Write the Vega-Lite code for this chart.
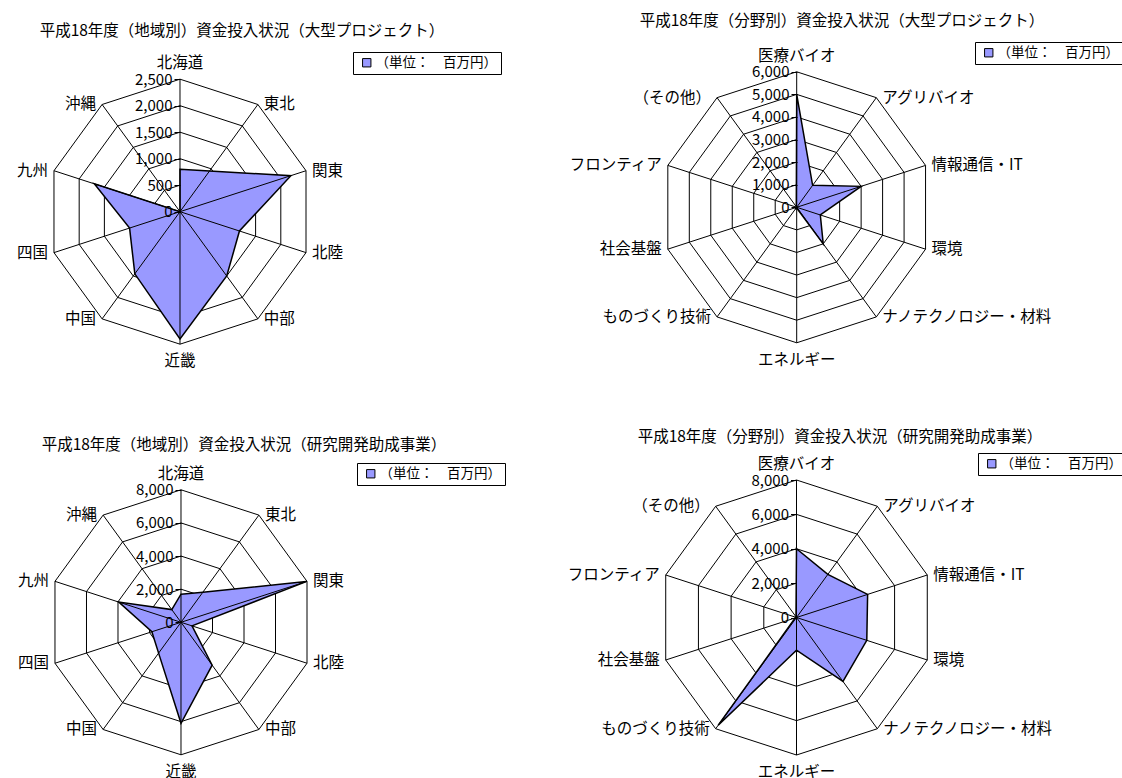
{
  "$schema": "https://vega.github.io/schema/vega-lite/v6.json",
  "background": "white",
  "padding": 0,
  "autosize": {"type": "pad"},
  "config": {"view": {"stroke": null, "fill": "white"}, "concat": {"spacing": 0}},
  "datasets": {
    "A": [
      {"cat": "北海道", "idx": 0, "v": 800},
      {"cat": "東北", "idx": 1, "v": 950},
      {"cat": "関東", "idx": 2, "v": 2200},
      {"cat": "北陸", "idx": 3, "v": 1180},
      {"cat": "中部", "idx": 4, "v": 1500},
      {"cat": "近畿", "idx": 5, "v": 2400},
      {"cat": "中国", "idx": 6, "v": 1450},
      {"cat": "四国", "idx": 7, "v": 1000},
      {"cat": "九州", "idx": 8, "v": 1700},
      {"cat": "沖縄", "idx": 9, "v": 0}
    ],
    "B": [
      {"cat": "医療バイオ", "idx": 0, "v": 5000},
      {"cat": "アグリバイオ", "idx": 1, "v": 1200},
      {"cat": "情報通信・IT", "idx": 2, "v": 3000},
      {"cat": "環境", "idx": 3, "v": 1100},
      {"cat": "ナノテクノロジー・材料", "idx": 4, "v": 2000},
      {"cat": "エネルギー", "idx": 5, "v": 30},
      {"cat": "ものづくり技術", "idx": 6, "v": 100},
      {"cat": "社会基盤", "idx": 7, "v": 30},
      {"cat": "フロンティア", "idx": 8, "v": 0},
      {"cat": "（その他）", "idx": 9, "v": 30}
    ],
    "C": [
      {"cat": "北海道", "idx": 0, "v": 1700},
      {"cat": "東北", "idx": 1, "v": 2250},
      {"cat": "関東", "idx": 2, "v": 7950},
      {"cat": "北陸", "idx": 3, "v": 700},
      {"cat": "中部", "idx": 4, "v": 3200},
      {"cat": "近畿", "idx": 5, "v": 6100},
      {"cat": "中国", "idx": 6, "v": 2300},
      {"cat": "四国", "idx": 7, "v": 1850},
      {"cat": "九州", "idx": 8, "v": 3950},
      {"cat": "沖縄", "idx": 9, "v": 950}
    ],
    "D": [
      {"cat": "医療バイオ", "idx": 0, "v": 4000},
      {"cat": "アグリバイオ", "idx": 1, "v": 3100},
      {"cat": "情報通信・IT", "idx": 2, "v": 4350},
      {"cat": "環境", "idx": 3, "v": 4300},
      {"cat": "ナノテクノロジー・材料", "idx": 4, "v": 4600},
      {"cat": "エネルギー", "idx": 5, "v": 1900},
      {"cat": "ものづくり技術", "idx": 6, "v": 7750},
      {"cat": "社会基盤", "idx": 7, "v": 80},
      {"cat": "フロンティア", "idx": 8, "v": 0},
      {"cat": "（その他）", "idx": 9, "v": 50}
    ]
  },
  "columns": 2,
  "align": "each",
  "spacing": 0,
  "bounds": "flush",
  "resolve": {"scale": {"fill": "independent"}, "legend": {"fill": "independent"}},
  "concat": [
    {
      "width": 560, "height": 410,
      "data": {"name": "A"},
      "title": {"text": "平成18年度（地域別）資金投入状況（大型プロジェクト）", "anchor": "middle", "frame": "group", "dx": -38, "dy": 5, "offset": -41, "baseline": "middle", "font": "Noto Sans CJK JP", "fontSize": 15.5, "fontWeight": "normal", "color": "black"},
      "transform": [{"calculate": "datum.idx*PI/5", "as": "th"}],
      "encoding": {
        "x": {"field": "X", "type": "quantitative", "scale": {"domain": [-3396, 7170], "nice": false, "zero": false}, "axis": null},
        "y": {"field": "Y", "type": "quantitative", "scale": {"domain": [-3742, 3994], "nice": false, "zero": false},
              "axis": {"orient": "left", "offset": -180, "values": [0, 500, 1000, 1500, 2000, 2500], "format": ",.0f", "domain": false, "grid": false, "ticks": true, "tickSize": 6, "tickColor": "black", "labelPadding": 2, "labelFont": "Noto Sans CJK JP", "labelFontSize": 15, "labelColor": "black", "labelFlush": false, "labelOverlap": false, "labelBound": false, "title": null, "zindex": 1}}
      },
      "layer": [
        {"transform": [{"calculate": "[500,1000,1500,2000,2500]", "as": "lv"}, {"flatten": ["lv"]}, {"calculate": "datum.lv*sin(datum.th)", "as": "X"}, {"calculate": "datum.lv*cos(datum.th)", "as": "Y"}],
         "mark": {"type": "line", "interpolate": "linear-closed", "stroke": "black", "strokeWidth": 1},
         "encoding": {"detail": {"field": "lv", "type": "quantitative"}, "order": {"field": "idx", "type": "quantitative"}}},
        {"transform": [{"calculate": "datum.v*sin(datum.th)", "as": "X"}, {"calculate": "datum.v*cos(datum.th)", "as": "Y"}],
         "mark": {"type": "line", "interpolate": "linear-closed", "strokeOpacity": 0, "fillOpacity": 1},
         "encoding": {"order": {"field": "idx", "type": "quantitative"},
                      "fill": {"datum": "（単位：　百万円）", "type": "nominal", "scale": {"range": ["#9999ff"]},
                               "legend": {"orient": "none", "legendX": 353, "legendY": 52, "title": null, "symbolType": "square", "symbolSize": 70, "symbolStrokeColor": "black", "symbolStrokeWidth": 1, "symbolOpacity": 1, "symbolOffset": 3, "strokeColor": "black", "fillColor": "white", "padding": 4, "labelFont": "Noto Sans CJK JP", "labelFontSize": 13.5, "labelColor": "black", "labelOffset": 2, "labelLimit": 400}}}},
        {"transform": [{"calculate": "2500*sin(datum.th)", "as": "X"}, {"calculate": "2500*cos(datum.th)", "as": "Y"}],
         "mark": {"type": "rule", "stroke": "black", "strokeWidth": 1},
         "encoding": {"x2": {"datum": 0}, "y2": {"datum": 0}}},
        {"transform": [{"calculate": "datum.v*sin(datum.th)", "as": "X"}, {"calculate": "datum.v*cos(datum.th)", "as": "Y"}],
         "mark": {"type": "line", "interpolate": "linear-closed", "stroke": "black", "strokeWidth": 1.5},
         "encoding": {"order": {"field": "idx", "type": "quantitative"}}},
        {"transform": [{"filter": "datum.idx>=1 && datum.idx<=4"}, {"calculate": "2500*sin(datum.th)", "as": "X"}, {"calculate": "2500*cos(datum.th)", "as": "Y"}],
         "mark": {"type": "text", "align": "left", "baseline": "middle", "dx": 6, "font": "Noto Sans CJK JP", "fontSize": 15.5, "fill": "black"},
         "encoding": {"text": {"field": "cat"}}},
        {"transform": [{"filter": "datum.idx>=6"}, {"calculate": "2500*sin(datum.th)", "as": "X"}, {"calculate": "2500*cos(datum.th)", "as": "Y"}],
         "mark": {"type": "text", "align": "right", "baseline": "middle", "dx": -6, "font": "Noto Sans CJK JP", "fontSize": 15.5, "fill": "black"},
         "encoding": {"text": {"field": "cat"}}},
        {"transform": [{"filter": "datum.idx==0"}, {"calculate": "2500*sin(datum.th)", "as": "X"}, {"calculate": "2500*cos(datum.th)", "as": "Y"}],
         "mark": {"type": "text", "align": "center", "baseline": "middle", "dy": -16, "font": "Noto Sans CJK JP", "fontSize": 15.5, "fill": "black"},
         "encoding": {"text": {"field": "cat"}}},
        {"transform": [{"filter": "datum.idx==5"}, {"calculate": "2500*sin(datum.th)", "as": "X"}, {"calculate": "2500*cos(datum.th)", "as": "Y"}],
         "mark": {"type": "text", "align": "center", "baseline": "middle", "dy": 17, "font": "Noto Sans CJK JP", "fontSize": 15.5, "fill": "black"},
         "encoding": {"text": {"field": "cat"}}}
      ]
    },
    {
      "width": 562, "height": 410,
      "data": {"name": "B"},
      "title": {"text": "平成18年度（分野別）資金投入状況（大型プロジェクト）", "anchor": "middle", "frame": "group", "dx": 1, "dy": 5, "offset": -31, "baseline": "middle", "font": "Noto Sans CJK JP", "fontSize": 15.5, "fontWeight": "normal", "color": "black"},
      "transform": [{"calculate": "datum.idx*PI/5", "as": "th"}],
      "encoding": {
        "x": {"field": "X", "type": "quantitative", "scale": {"domain": [-10481, 14405], "nice": false, "zero": false}, "axis": null},
        "y": {"field": "Y", "type": "quantitative", "scale": {"domain": [-8976, 9179], "nice": false, "zero": false},
              "axis": {"orient": "left", "offset": -237, "values": [0, 1000, 2000, 3000, 4000, 5000, 6000], "format": ",.0f", "domain": false, "grid": false, "ticks": true, "tickSize": 6, "tickColor": "black", "labelPadding": 2, "labelFont": "Noto Sans CJK JP", "labelFontSize": 15, "labelColor": "black", "labelFlush": false, "labelOverlap": false, "labelBound": false, "title": null, "zindex": 1}}
      },
      "layer": [
        {"transform": [{"calculate": "[1000,2000,3000,4000,5000,6000]", "as": "lv"}, {"flatten": ["lv"]}, {"calculate": "datum.lv*sin(datum.th)", "as": "X"}, {"calculate": "datum.lv*cos(datum.th)", "as": "Y"}],
         "mark": {"type": "line", "interpolate": "linear-closed", "stroke": "black", "strokeWidth": 1},
         "encoding": {"detail": {"field": "lv", "type": "quantitative"}, "order": {"field": "idx", "type": "quantitative"}}},
        {"transform": [{"calculate": "datum.v*sin(datum.th)", "as": "X"}, {"calculate": "datum.v*cos(datum.th)", "as": "Y"}],
         "mark": {"type": "line", "interpolate": "linear-closed", "strokeOpacity": 0, "fillOpacity": 1},
         "encoding": {"order": {"field": "idx", "type": "quantitative"},
                      "fill": {"datum": "（単位：　百万円）", "type": "nominal", "scale": {"range": ["#9999ff"]},
                               "legend": {"orient": "none", "legendX": 415, "legendY": 42, "title": null, "symbolType": "square", "symbolSize": 70, "symbolStrokeColor": "black", "symbolStrokeWidth": 1, "symbolOpacity": 1, "symbolOffset": 3, "strokeColor": "black", "fillColor": "white", "padding": 4, "labelFont": "Noto Sans CJK JP", "labelFontSize": 13.5, "labelColor": "black", "labelOffset": 2, "labelLimit": 400}}}},
        {"transform": [{"calculate": "6000*sin(datum.th)", "as": "X"}, {"calculate": "6000*cos(datum.th)", "as": "Y"}],
         "mark": {"type": "rule", "stroke": "black", "strokeWidth": 1},
         "encoding": {"x2": {"datum": 0}, "y2": {"datum": 0}}},
        {"transform": [{"calculate": "datum.v*sin(datum.th)", "as": "X"}, {"calculate": "datum.v*cos(datum.th)", "as": "Y"}],
         "mark": {"type": "line", "interpolate": "linear-closed", "stroke": "black", "strokeWidth": 1.5},
         "encoding": {"order": {"field": "idx", "type": "quantitative"}}},
        {"transform": [{"filter": "datum.idx>=1 && datum.idx<=4"}, {"calculate": "6000*sin(datum.th)", "as": "X"}, {"calculate": "6000*cos(datum.th)", "as": "Y"}],
         "mark": {"type": "text", "align": "left", "baseline": "middle", "dx": 6, "font": "Noto Sans CJK JP", "fontSize": 15.5, "fill": "black"},
         "encoding": {"text": {"field": "cat"}}},
        {"transform": [{"filter": "datum.idx>=6"}, {"calculate": "6000*sin(datum.th)", "as": "X"}, {"calculate": "6000*cos(datum.th)", "as": "Y"}],
         "mark": {"type": "text", "align": "right", "baseline": "middle", "dx": -6, "font": "Noto Sans CJK JP", "fontSize": 15.5, "fill": "black"},
         "encoding": {"text": {"field": "cat"}}},
        {"transform": [{"filter": "datum.idx==0"}, {"calculate": "6000*sin(datum.th)", "as": "X"}, {"calculate": "6000*cos(datum.th)", "as": "Y"}],
         "mark": {"type": "text", "align": "center", "baseline": "middle", "dy": -16, "font": "Noto Sans CJK JP", "fontSize": 15.5, "fill": "black"},
         "encoding": {"text": {"field": "cat"}}},
        {"transform": [{"filter": "datum.idx==5"}, {"calculate": "6000*sin(datum.th)", "as": "X"}, {"calculate": "6000*cos(datum.th)", "as": "Y"}],
         "mark": {"type": "text", "align": "center", "baseline": "middle", "dy": 17, "font": "Noto Sans CJK JP", "fontSize": 15.5, "fill": "black"},
         "encoding": {"text": {"field": "cat"}}}
      ]
    },
    {
      "width": 560, "height": 368,
      "data": {"name": "C"},
      "title": {"text": "平成18年度（地域別）資金投入状況（研究開発助成事業）", "anchor": "middle", "frame": "group", "dx": -36, "dy": 5, "offset": -45, "baseline": "middle", "font": "Noto Sans CJK JP", "fontSize": 15.5, "fontWeight": "normal", "color": "black"},
      "transform": [{"calculate": "datum.idx*PI/5", "as": "th"}],
      "encoding": {
        "x": {"field": "X", "type": "quantitative", "scale": {"domain": [-10928, 22883], "nice": false, "zero": false}, "axis": null},
        "y": {"field": "Y", "type": "quantitative", "scale": {"domain": [-9401, 12818], "nice": false, "zero": false},
              "axis": {"orient": "left", "offset": -181, "values": [0, 2000, 4000, 6000, 8000], "format": ",.0f", "domain": false, "grid": false, "ticks": true, "tickSize": 6, "tickColor": "black", "labelPadding": 2, "labelFont": "Noto Sans CJK JP", "labelFontSize": 15, "labelColor": "black", "labelFlush": false, "labelOverlap": false, "labelBound": false, "title": null, "zindex": 1}}
      },
      "layer": [
        {"transform": [{"calculate": "[2000,4000,6000,8000]", "as": "lv"}, {"flatten": ["lv"]}, {"calculate": "datum.lv*sin(datum.th)", "as": "X"}, {"calculate": "datum.lv*cos(datum.th)", "as": "Y"}],
         "mark": {"type": "line", "interpolate": "linear-closed", "stroke": "black", "strokeWidth": 1},
         "encoding": {"detail": {"field": "lv", "type": "quantitative"}, "order": {"field": "idx", "type": "quantitative"}}},
        {"transform": [{"calculate": "datum.v*sin(datum.th)", "as": "X"}, {"calculate": "datum.v*cos(datum.th)", "as": "Y"}],
         "mark": {"type": "line", "interpolate": "linear-closed", "strokeOpacity": 0, "fillOpacity": 1},
         "encoding": {"order": {"field": "idx", "type": "quantitative"},
                      "fill": {"datum": "（単位：　百万円）", "type": "nominal", "scale": {"range": ["#9999ff"]},
                               "legend": {"orient": "none", "legendX": 357, "legendY": 53, "title": null, "symbolType": "square", "symbolSize": 70, "symbolStrokeColor": "black", "symbolStrokeWidth": 1, "symbolOpacity": 1, "symbolOffset": 3, "strokeColor": "black", "fillColor": "white", "padding": 4, "labelFont": "Noto Sans CJK JP", "labelFontSize": 13.5, "labelColor": "black", "labelOffset": 2, "labelLimit": 400}}}},
        {"transform": [{"calculate": "8000*sin(datum.th)", "as": "X"}, {"calculate": "8000*cos(datum.th)", "as": "Y"}],
         "mark": {"type": "rule", "stroke": "black", "strokeWidth": 1},
         "encoding": {"x2": {"datum": 0}, "y2": {"datum": 0}}},
        {"transform": [{"calculate": "datum.v*sin(datum.th)", "as": "X"}, {"calculate": "datum.v*cos(datum.th)", "as": "Y"}],
         "mark": {"type": "line", "interpolate": "linear-closed", "stroke": "black", "strokeWidth": 1.5},
         "encoding": {"order": {"field": "idx", "type": "quantitative"}}},
        {"transform": [{"filter": "datum.idx>=1 && datum.idx<=4"}, {"calculate": "8000*sin(datum.th)", "as": "X"}, {"calculate": "8000*cos(datum.th)", "as": "Y"}],
         "mark": {"type": "text", "align": "left", "baseline": "middle", "dx": 6, "font": "Noto Sans CJK JP", "fontSize": 15.5, "fill": "black"},
         "encoding": {"text": {"field": "cat"}}},
        {"transform": [{"filter": "datum.idx>=6"}, {"calculate": "8000*sin(datum.th)", "as": "X"}, {"calculate": "8000*cos(datum.th)", "as": "Y"}],
         "mark": {"type": "text", "align": "right", "baseline": "middle", "dx": -6, "font": "Noto Sans CJK JP", "fontSize": 15.5, "fill": "black"},
         "encoding": {"text": {"field": "cat"}}},
        {"transform": [{"filter": "datum.idx==0"}, {"calculate": "8000*sin(datum.th)", "as": "X"}, {"calculate": "8000*cos(datum.th)", "as": "Y"}],
         "mark": {"type": "text", "align": "center", "baseline": "middle", "dy": -16, "font": "Noto Sans CJK JP", "fontSize": 15.5, "fill": "black"},
         "encoding": {"text": {"field": "cat"}}},
        {"transform": [{"filter": "datum.idx==5"}, {"calculate": "8000*sin(datum.th)", "as": "X"}, {"calculate": "8000*cos(datum.th)", "as": "Y"}],
         "mark": {"type": "text", "align": "center", "baseline": "middle", "dy": 17, "font": "Noto Sans CJK JP", "fontSize": 15.5, "fill": "black"},
         "encoding": {"text": {"field": "cat"}}}
      ]
    },
    {
      "width": 562, "height": 368,
      "data": {"name": "D"},
      "title": {"text": "平成18年度（分野別）資金投入状況（研究開発助成事業）", "anchor": "middle", "frame": "group", "dx": -1, "dy": 5, "offset": -37, "baseline": "middle", "font": "Noto Sans CJK JP", "fontSize": 15.5, "fontWeight": "normal", "color": "black"},
      "transform": [{"calculate": "datum.idx*PI/5", "as": "th"}],
      "encoding": {
        "x": {"field": "X", "type": "quantitative", "scale": {"domain": [-13760, 18938], "nice": false, "zero": false}, "axis": null},
        "y": {"field": "Y", "type": "quantitative", "scale": {"domain": [-9338, 12073], "nice": false, "zero": false},
              "axis": {"orient": "left", "offset": -236.5, "values": [0, 2000, 4000, 6000, 8000], "format": ",.0f", "domain": false, "grid": false, "ticks": true, "tickSize": 6, "tickColor": "black", "labelPadding": 2, "labelFont": "Noto Sans CJK JP", "labelFontSize": 15, "labelColor": "black", "labelFlush": false, "labelOverlap": false, "labelBound": false, "title": null, "zindex": 1}}
      },
      "layer": [
        {"transform": [{"calculate": "[2000,4000,6000,8000]", "as": "lv"}, {"flatten": ["lv"]}, {"calculate": "datum.lv*sin(datum.th)", "as": "X"}, {"calculate": "datum.lv*cos(datum.th)", "as": "Y"}],
         "mark": {"type": "line", "interpolate": "linear-closed", "stroke": "black", "strokeWidth": 1},
         "encoding": {"detail": {"field": "lv", "type": "quantitative"}, "order": {"field": "idx", "type": "quantitative"}}},
        {"transform": [{"calculate": "datum.v*sin(datum.th)", "as": "X"}, {"calculate": "datum.v*cos(datum.th)", "as": "Y"}],
         "mark": {"type": "line", "interpolate": "linear-closed", "strokeOpacity": 0, "fillOpacity": 1},
         "encoding": {"order": {"field": "idx", "type": "quantitative"},
                      "fill": {"datum": "（単位：　百万円）", "type": "nominal", "scale": {"range": ["#9999ff"]},
                               "legend": {"orient": "none", "legendX": 418, "legendY": 43, "title": null, "symbolType": "square", "symbolSize": 70, "symbolStrokeColor": "black", "symbolStrokeWidth": 1, "symbolOpacity": 1, "symbolOffset": 3, "strokeColor": "black", "fillColor": "white", "padding": 4, "labelFont": "Noto Sans CJK JP", "labelFontSize": 13.5, "labelColor": "black", "labelOffset": 2, "labelLimit": 400}}}},
        {"transform": [{"calculate": "8000*sin(datum.th)", "as": "X"}, {"calculate": "8000*cos(datum.th)", "as": "Y"}],
         "mark": {"type": "rule", "stroke": "black", "strokeWidth": 1},
         "encoding": {"x2": {"datum": 0}, "y2": {"datum": 0}}},
        {"transform": [{"calculate": "datum.v*sin(datum.th)", "as": "X"}, {"calculate": "datum.v*cos(datum.th)", "as": "Y"}],
         "mark": {"type": "line", "interpolate": "linear-closed", "stroke": "black", "strokeWidth": 1.5},
         "encoding": {"order": {"field": "idx", "type": "quantitative"}}},
        {"transform": [{"filter": "datum.idx>=1 && datum.idx<=4"}, {"calculate": "8000*sin(datum.th)", "as": "X"}, {"calculate": "8000*cos(datum.th)", "as": "Y"}],
         "mark": {"type": "text", "align": "left", "baseline": "middle", "dx": 6, "font": "Noto Sans CJK JP", "fontSize": 15.5, "fill": "black"},
         "encoding": {"text": {"field": "cat"}}},
        {"transform": [{"filter": "datum.idx>=6"}, {"calculate": "8000*sin(datum.th)", "as": "X"}, {"calculate": "8000*cos(datum.th)", "as": "Y"}],
         "mark": {"type": "text", "align": "right", "baseline": "middle", "dx": -6, "font": "Noto Sans CJK JP", "fontSize": 15.5, "fill": "black"},
         "encoding": {"text": {"field": "cat"}}},
        {"transform": [{"filter": "datum.idx==0"}, {"calculate": "8000*sin(datum.th)", "as": "X"}, {"calculate": "8000*cos(datum.th)", "as": "Y"}],
         "mark": {"type": "text", "align": "center", "baseline": "middle", "dy": -16, "font": "Noto Sans CJK JP", "fontSize": 15.5, "fill": "black"},
         "encoding": {"text": {"field": "cat"}}},
        {"transform": [{"filter": "datum.idx==5"}, {"calculate": "8000*sin(datum.th)", "as": "X"}, {"calculate": "8000*cos(datum.th)", "as": "Y"}],
         "mark": {"type": "text", "align": "center", "baseline": "middle", "dy": 17, "font": "Noto Sans CJK JP", "fontSize": 15.5, "fill": "black"},
         "encoding": {"text": {"field": "cat"}}}
      ]
    }
  ]
}
